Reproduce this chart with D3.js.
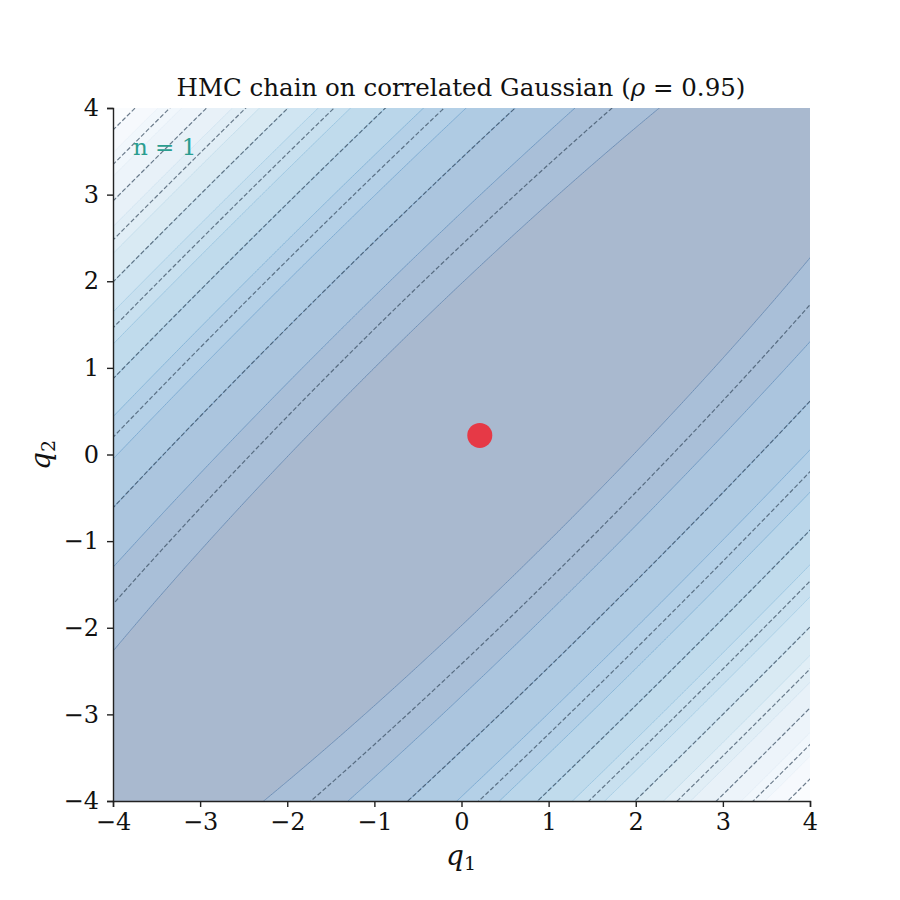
<!DOCTYPE html>
<html>
<head>
<meta charset="utf-8">
<title>HMC chain on correlated Gaussian</title>
<script src="https://cdn.jsdelivr.net/npm/d3@7"></script>
<style>
  body { margin: 0; background: #fff; }
  svg text { font-family: "DejaVu Serif", serif; fill: #111; }
</style>
</head>
<body>
<svg id="chart" width="900" height="900"></svg>
<script>
// target correlation and the chain state shown
var rho = 0.95;
var fillLevels = [0, 20, 40, 60, 80, 100, 120, 140, 160, 180, 200, 220, 240, 260, 280, 300, 320];
var lineLevels = [30, 60, 90, 120, 150, 180, 210, 240, 270, 300];
var chainQ1 = [0.21];
var chainQ2 = [0.22];
var xTicks = [-4, -3, -2, -1, 0, 1, 2, 3, 4];
var yTicks = [-4, -3, -2, -1, 0, 1, 2, 3, 4];
// matplotlib "Blues" stops
var bluesStops = ["#f7fbff", "#deebf7", "#c6dbef", "#9ecae1", "#6baed6", "#4292c6", "#2171b5", "#08519c", "#08306b"];

var svg = d3.select("#chart");
var x = d3.scaleLinear().domain([-4, 4]).range([113, 810]);
var y = d3.scaleLinear().domain([-4, 4]).range([801, 108]);

var blues = d3.piecewise(d3.interpolateRgb, bluesStops);
var alpha = 0.35;
function blend(c, a) {
  c = d3.rgb(c);
  return d3.rgb(255 * (1 - a) + c.r * a, 255 * (1 - a) + c.g * a, 255 * (1 - a) + c.b * a);
}
var lo = fillLevels[0], hi = fillLevels[fillLevels.length - 1];
function bandRaw(k) {
  var mid = (fillLevels[k] + fillLevels[k + 1]) / 2;
  return blues(1 - (mid - lo) / (hi - lo));   // Blues_r
}

// potential U(q) = 1/2 q' S^-1 q on a grid a bit larger than the axes
var g0 = -4.3, g1 = 4.3, n = 430;
var step = (g1 - g0) / n;
var values = new Float64Array(n * n);
for (var j = 0; j < n; j++) {
  var q2 = g1 - (j + 0.5) * step;
  for (var i = 0; i < n; i++) {
    var q1 = g0 + (i + 0.5) * step;
    values[i + j * n] = 0.5 * (q1 * q1 - 2 * rho * q1 * q2 + q2 * q2) / (1 - rho * rho);
  }
}
var path = d3.geoPath(d3.geoTransform({
  point: function(cx, cy) {
    this.stream.point(x(g0 + cx * step), y(g1 - cy * step));
  }
}));
var contours = d3.contours().size([n, n]);

svg.append("clipPath").attr("id", "clip")
  .append("rect").attr("x", 113).attr("y", 108).attr("width", 697).attr("height", 693);

var plot = svg.append("g").attr("clip-path", "url(#clip)");

// filled bands
plot.append("g").selectAll("path")
  .data(fillLevels.slice(0, -1).map(function(t, k) { return {k: k, c: contours.contour(values, t)}; }))
  .join("path")
  .attr("d", function(d) { return path(d.c); })
  .attr("fill", function(d) { return blend(bandRaw(d.k), alpha); })
  .attr("stroke", "none");

// darker seams where neighbouring bands overlap
plot.append("g").selectAll("path")
  .data(fillLevels.slice(1, -1).map(function(t, k) { return {k: k + 1, c: contours.contour(values, t)}; }))
  .join("path")
  .attr("d", function(d) { return path(d.c); })
  .attr("fill", "none")
  .attr("stroke", function(d) {
    var a = d3.rgb(bandRaw(d.k - 1)), b = d3.rgb(bandRaw(d.k));
    var m = d3.rgb((a.r + b.r) / 2, (a.g + b.g) / 2, (a.b + b.b) / 2);
    return blend(m, 1 - (1 - alpha) * (1 - alpha));
  })
  .attr("stroke-width", 1.0);

// dashed level lines
plot.append("g").selectAll("path")
  .data(lineLevels.map(function(t) { return contours.contour(values, t); }))
  .join("path")
  .attr("d", path)
  .attr("fill", "none")
  .attr("stroke", "#34495c")
  .attr("stroke-opacity", 0.7)
  .attr("stroke-width", 1.2)
  .attr("stroke-dasharray", "4.5,2.2");

// chain state
plot.selectAll("circle.pt")
  .data(chainQ1.map(function(v, i) { return [v, chainQ2[i]]; }))
  .join("circle")
  .attr("class", "pt")
  .attr("cx", function(d) { return x(d[0]); })
  .attr("cy", function(d) { return y(d[1]); })
  .attr("r", 12.5)
  .attr("fill", "#e63946");

svg.append("text")
  .attr("x", 133).attr("y", 155)
  .style("fill", "#2a9d8f")
  .attr("font-size", 23)
  .text("n = " + chainQ1.length);

// axes
var fmt = function(d) { return d < 0 ? "\u2212" + (-d) : "" + d; };
var xAxis = svg.append("g").attr("transform", "translate(0,801)")
  .call(d3.axisBottom(x).tickValues(xTicks).tickFormat(fmt).tickSize(6).tickPadding(6));
var yAxis = svg.append("g").attr("transform", "translate(113,0)")
  .call(d3.axisLeft(y).tickValues(yTicks).tickFormat(fmt).tickSize(6).tickPadding(8));
[xAxis, yAxis].forEach(function(a) {
  a.selectAll("path.domain").attr("stroke", "#222").attr("stroke-width", 1.4);
  a.selectAll(".tick line").attr("stroke", "#222").attr("stroke-width", 1.4);
  a.selectAll(".tick text").attr("font-family", "DejaVu Serif").attr("font-size", 24).style("fill", "#111");
});

// labels
svg.append("text")
  .attr("x", 461).attr("y", 96)
  .attr("text-anchor", "middle")
  .attr("font-size", 24.5)
  .call(function(t) {
    t.append("tspan").text("HMC chain on correlated Gaussian (");
    t.append("tspan").attr("font-style", "italic").text("\u03c1");
    t.append("tspan").text(" = " + rho + ")");
  });

var xl = svg.append("text")
  .attr("x", 461).attr("y", 865)
  .attr("text-anchor", "middle")
  .attr("font-size", 28);
xl.append("tspan").attr("font-style", "italic").text("q");
xl.append("tspan").attr("font-size", 19).attr("dy", 5).text("1");

var yl = svg.append("text")
  .attr("transform", "translate(50,455) rotate(-90)")
  .attr("text-anchor", "middle")
  .attr("font-size", 28);
yl.append("tspan").attr("font-style", "italic").text("q");
yl.append("tspan").attr("font-size", 19).attr("dy", 5).text("2");
</script>
</body>
</html>
